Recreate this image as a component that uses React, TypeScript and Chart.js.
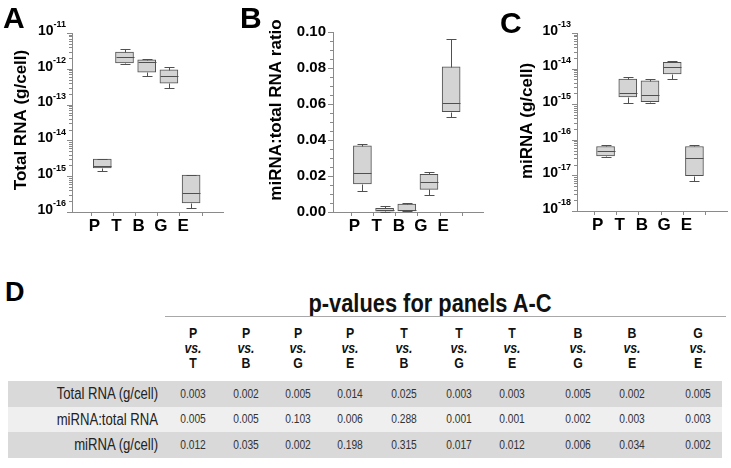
import React, { useEffect, useRef } from 'react';
import { Chart, registerables } from 'chart.js';

Chart.register(...registerables);

const FONT = '"Liberation Sans", Arial, Helvetica, sans-serif';

const groups = ['P', 'T', 'B', 'G', 'E'];

// Panel A: Total RNA (g/cell)
const totalRnaMin = [1.41e-15, 1.35e-12, 6.3e-13, 2.9e-13, 1.29e-16];
const totalRnaQ1 = [1.7e-15, 1.45e-12, 8.1e-13, 4.0e-13, 1.78e-16];
const totalRnaMedian = [1.91e-15, 2.14e-12, 1.55e-12, 6.3e-13, 3.4e-16];
const totalRnaQ3 = [3.0e-15, 2.95e-12, 1.78e-12, 9.3e-13, 1.07e-15];
const totalRnaMax = [3.1e-15, 3.55e-12, 1.86e-12, 1.12e-12, 1.1e-15];
const totalRnaDecades = [-16, -15, -14, -13, -12, -11];

// Panel B: miRNA:total RNA ratio
const ratioMin = [0.0117, 0.0002, 0.0003, 0.0094, 0.0526];
const ratioQ1 = [0.0156, 0.0004, 0.0006, 0.0126, 0.0557];
const ratioMedian = [0.0217, 0.001, 0.0011, 0.0165, 0.0604];
const ratioQ3 = [0.0367, 0.002, 0.0044, 0.0209, 0.0807];
const ratioMax = [0.0378, 0.0033, 0.0048, 0.0224, 0.0959];
const ratioTicks = [0, 0.02, 0.04, 0.06, 0.08, 0.1];
const ratioMinorTicks = [0.005, 0.01, 0.015, 0.025, 0.03, 0.035, 0.045, 0.05, 0.055, 0.065, 0.07, 0.075, 0.085, 0.09, 0.095];

// Panel C: miRNA (g/cell)
const mirnaMin = [3.2e-17, 1.07e-15, 1.07e-15, 5.1e-15, 6.9e-18];
const mirnaQ1 = [3.5e-17, 1.6e-15, 1.17e-15, 7.1e-15, 9.8e-18];
const mirnaMedian = [4.7e-17, 2.1e-15, 1.8e-15, 1.12e-14, 3.0e-17];
const mirnaQ3 = [6.5e-17, 5.1e-15, 4.5e-15, 1.51e-14, 6.5e-17];
const mirnaMax = [7.1e-17, 5.9e-15, 5.0e-15, 1.62e-14, 7.1e-17];
const mirnaDecades = [-18, -17, -16, -15, -14, -13];

// Panel D: p-values table
const comparisonFrom = ['P', 'P', 'P', 'P', 'T', 'T', 'T', 'B', 'B', 'G'];
const comparisonTo = ['T', 'B', 'G', 'E', 'B', 'G', 'E', 'G', 'E', 'E'];
const rowLabels = ['Total RNA (g/cell)', 'miRNA:total RNA', 'miRNA (g/cell)'];
const pTotalRna = ['0.003', '0.002', '0.005', '0.014', '0.025', '0.003', '0.003', '0.005', '0.002', '0.005'];
const pRatio = ['0.005', '0.005', '0.103', '0.006', '0.288', '0.001', '0.001', '0.002', '0.003', '0.003'];
const pMirna = ['0.012', '0.035', '0.002', '0.198', '0.315', '0.017', '0.012', '0.006', '0.034', '0.002'];
const pRows = [pTotalRna, pRatio, pMirna];

const AXIS = '#8a8a8a';
const BOX_LINE = '#505050';
const BOX_FILL = '#d4d4d4';

type PanelProps = {
  left: number;
  width: number;
  height: number;
  chartLeft: number;
  chartRight: number;
  chartTop: number;
  chartBottom: number;
  xMin: number;
  xMax: number;
  log: boolean;
  yMin: number;
  yMax: number;
  decades?: number[];
  linTicks?: number[];
  minorTicks?: number[];
  mins: number[];
  q1s: number[];
  medians: number[];
  q3s: number[];
  maxs: number[];
  title: string;
  titleX: number;
  titleY: number;
};

function BoxPanel(p: PanelProps) {
  const ref = useRef<HTMLCanvasElement>(null);
  useEffect(() => {
    const whiskers = {
      id: 'whiskers',
      afterDatasetsDraw(chart: any) {
        const { ctx, scales } = chart;
        const x = scales.x;
        const y = scales.y;
        ctx.save();
        ctx.strokeStyle = BOX_LINE;
        ctx.lineWidth = 1;
        const py = (v: number) => Math.round(y.getPixelForValue(v)) + 0.5;
        for (let i = 0; i < groups.length; i++) {
          const cx = Math.round(x.getPixelForValue(i)) + 0.5;
          const yMax = py(p.maxs[i]);
          const yQ3 = py(p.q3s[i]);
          const yQ1 = py(p.q1s[i]);
          const yMin = py(p.mins[i]);
          const yMed = py(p.medians[i]);
          ctx.beginPath();
          ctx.moveTo(cx, yQ3);
          ctx.lineTo(cx, yMax);
          ctx.moveTo(cx - 5, yMax);
          ctx.lineTo(cx + 5, yMax);
          ctx.moveTo(cx, yQ1);
          ctx.lineTo(cx, yMin);
          ctx.moveTo(cx - 5, yMin);
          ctx.lineTo(cx + 5, yMin);
          ctx.moveTo(cx - 9, yMed);
          ctx.lineTo(cx + 9, yMed);
          ctx.stroke();
        }
        ctx.restore();
      },
    };
    const decor = {
      id: 'decor',
      afterDraw(chart: any) {
        const { ctx, scales, chartArea } = chart;
        const y = scales.y;
        const ax = chartArea.left;
        ctx.save();
        ctx.strokeStyle = AXIS;
        ctx.lineWidth = 1;
        ctx.beginPath();
        if (p.log && p.decades) {
          const ds = p.decades;
          for (let di = 0; di < ds.length; di++) {
            const e = ds[di];
            const yy = Math.round(y.getPixelForValue(Math.pow(10, e))) + 0.5;
            ctx.moveTo(ax - 5, yy);
            ctx.lineTo(ax, yy);
            if (di < ds.length - 1) {
              for (let k = 2; k <= 9; k++) {
                const ym = Math.round(y.getPixelForValue(k * Math.pow(10, e))) + 0.5;
                ctx.moveTo(ax - 3, ym);
                ctx.lineTo(ax, ym);
              }
            }
          }
        }
        if (p.minorTicks) {
          for (const v of p.minorTicks) {
            const ym = Math.round(y.getPixelForValue(v)) + 0.5;
            ctx.moveTo(ax - 3, ym);
            ctx.lineTo(ax, ym);
          }
        }
        ctx.stroke();
        ctx.fillStyle = '#000';
        if (p.log && p.decades) {
          const baseFont = `bold 14px ${FONT}`;
          const expFont = `bold 9px ${FONT}`;
          for (const e of p.decades) {
            const yy = y.getPixelForValue(Math.pow(10, e));
            const expText = String(e);
            ctx.font = expFont;
            const we = ctx.measureText(expText).width;
            ctx.font = baseFont;
            const wb = ctx.measureText('10').width;
            const right = ax - 6;
            ctx.textAlign = 'left';
            ctx.textBaseline = 'middle';
            ctx.fillText('10', right - we - wb, yy - 2);
            ctx.font = expFont;
            ctx.fillText(expText, right - we, yy - 8);
          }
        }
        ctx.translate(p.titleX, p.titleY);
        ctx.rotate(-Math.PI / 2);
        ctx.font = `bold 17px ${FONT}`;
        ctx.textAlign = 'center';
        ctx.textBaseline = 'middle';
        ctx.fillText(p.title, 0, 0);
        ctx.restore();
      },
    };
    const yScale: any = p.log
      ? {
          type: 'logarithmic',
          min: p.yMin,
          max: p.yMax,
          ticks: { display: false },
          grid: { display: false },
          border: { display: true, color: AXIS, width: 1 },
          afterFit: (s: any) => {
            s.width = p.chartLeft;
          },
        }
      : {
          type: 'linear',
          min: p.yMin,
          max: p.yMax,
          afterBuildTicks: (s: any) => {
            s.ticks = (p.linTicks || []).map((v) => ({ value: v }));
          },
          ticks: {
            callback: (v: any) => Number(v).toFixed(2),
            font: { family: FONT, size: 15, weight: 'bold' },
            color: '#000',
            padding: 2,
          },
          grid: { drawOnChartArea: false, tickLength: 5, color: AXIS },
          border: { display: true, color: AXIS, width: 1 },
          afterFit: (s: any) => {
            s.width = p.chartLeft;
          },
        };
    const chart = new Chart(ref.current as HTMLCanvasElement, {
      type: 'bar',
      data: {
        datasets: [
          {
            data: groups.map((_, i) => ({ x: i, y: [p.q1s[i], p.q3s[i]] })) as any,
            backgroundColor: BOX_FILL,
            borderColor: BOX_LINE,
            borderWidth: 1,
            borderSkipped: false,
            barThickness: 18,
          },
        ],
      },
      options: {
        responsive: false,
        animation: false,
        devicePixelRatio: 1,
        layout: { padding: { left: 0, top: p.chartTop, right: p.width - p.chartRight, bottom: 0 } },
        plugins: { legend: { display: false }, tooltip: { enabled: false } },
        scales: {
          x: {
            type: 'linear',
            min: p.xMin,
            max: p.xMax,
            afterBuildTicks: (s: any) => {
              s.ticks = groups.map((_, i) => ({ value: i }));
            },
            afterFit: (s: any) => {
              s.height = p.height - p.chartBottom;
            },
            ticks: {
              callback: (v: any) => groups[v] ?? '',
              font: { family: FONT, size: 17, weight: 'bold' },
              color: '#000',
              padding: 0,
              labelOffset: -8,
              autoSkip: false,
              maxRotation: 0,
            },
            grid: { drawOnChartArea: false, tickLength: 4, color: AXIS },
            border: { display: true, color: AXIS, width: 1 },
          },
          y: yScale,
        },
      },
      plugins: [whiskers, decor],
    } as any);
    return () => chart.destroy();
  }, []);
  return (
    <canvas
      ref={ref}
      width={p.width}
      height={p.height}
      style={{ position: 'absolute', left: p.left, top: 0, width: p.width, height: p.height }}
    />
  );
}

const panelLetter = (text: string, left: number, top: number, size: number) => (
  <div
    style={{
      position: 'absolute',
      left,
      top,
      fontFamily: FONT,
      fontWeight: 'bold',
      fontSize: size,
      lineHeight: `${size}px`,
      color: '#000',
    }}
  >
    {text}
  </div>
);

function PTable() {
  const colCenters = [193, 246, 298, 350, 404, 459, 512, 578, 632, 698];
  const rowTop = 381;
  const rowH = 25.5;
  const rowBg = ['#d9d9d9', '#efefef', '#d9d9d9'];
  const cell = (cx: number, cy: number, text: string, style: any, key: string) => (
    <div
      key={key}
      style={{
        position: 'absolute',
        left: cx - 30,
        width: 60,
        top: cy - 9,
        height: 18,
        lineHeight: '18px',
        textAlign: 'center',
        whiteSpace: 'nowrap',
        transform: 'scaleX(0.82)',
        transformOrigin: '50% 50%',
        ...style,
      }}
    >
      {text}
    </div>
  );
  const head = { fontFamily: FONT, fontWeight: 'bold', fontSize: 15, color: '#111' };
  return (
    <>
      <div
        style={{
          position: 'absolute',
          left: 230,
          width: 400,
          top: 288,
          lineHeight: '30px',
          textAlign: 'center',
          fontFamily: FONT,
          fontWeight: 'bold',
          fontSize: 26,
          color: '#111',
          whiteSpace: 'nowrap',
          transform: 'scaleX(0.84)',
          transformOrigin: '50% 50%',
        }}
      >
        p-values for panels A-C
      </div>
      <div style={{ position: 'absolute', left: 165, top: 316, width: 561, height: 1, background: '#a8a8a8' }} />
      {comparisonFrom.map((a, i) => cell(colCenters[i], 333, a, head, 'h1' + i))}
      {comparisonFrom.map((_, i) =>
        cell(colCenters[i], 348, 'vs.', { ...head, fontStyle: 'italic' }, 'h2' + i)
      )}
      {comparisonTo.map((b, i) => cell(colCenters[i], 363, b, head, 'h3' + i))}
      {rowLabels.map((lab, r) => (
        <div
          key={'row' + r}
          style={{
            position: 'absolute',
            left: 8,
            width: 714,
            top: rowTop + r * rowH,
            height: rowH,
            background: rowBg[r],
          }}
        />
      ))}
      {rowLabels.map((lab, r) => (
        <div
          key={'lab' + r}
          style={{
            position: 'absolute',
            left: 8,
            width: 150,
            top: rowTop + r * rowH,
            height: rowH,
            lineHeight: `${rowH}px`,
            textAlign: 'right',
            fontFamily: FONT,
            fontSize: 16,
            color: '#222',
            whiteSpace: 'nowrap',
            transform: 'scaleX(0.82)',
            transformOrigin: '100% 50%',
          }}
        >
          {lab}
        </div>
      ))}
      {pRows.map((row, r) =>
        row.map((v, i) =>
          cell(
            colCenters[i],
            rowTop + r * rowH + rowH / 2,
            v,
            { fontFamily: FONT, fontSize: 12.5, color: '#333' },
            'v' + r + '_' + i
          )
        )
      )}
    </>
  );
}

export default function App() {
  return (
    <div
      style={{
        position: 'absolute',
        left: 0,
        top: 0,
        width: 731,
        height: 468,
        background: '#fff',
        overflow: 'hidden',
      }}
    >
      <BoxPanel
        left={0}
        width={240}
        height={245}
        chartLeft={72}
        chartRight={223}
        chartTop={33}
        chartBottom={212}
        xMin={-0.685}
        xMax={4.757}
        log={true}
        yMin={1e-16}
        yMax={1e-11}
        decades={totalRnaDecades}
        mins={totalRnaMin}
        q1s={totalRnaQ1}
        medians={totalRnaMedian}
        q3s={totalRnaQ3}
        maxs={totalRnaMax}
        title="Total RNA (g/cell)"
        titleX={21}
        titleY={120}
      />
      <BoxPanel
        left={240}
        width={250}
        height={245}
        chartLeft={93}
        chartRight={243}
        chartTop={32}
        chartBottom={212}
        xMin={-0.65}
        xMax={4.76}
        log={false}
        yMin={0}
        yMax={0.1}
        linTicks={ratioTicks}
        minorTicks={ratioMinorTicks}
        mins={ratioMin}
        q1s={ratioQ1}
        medians={ratioMedian}
        q3s={ratioQ3}
        maxs={ratioMax}
        title="miRNA:total RNA ratio"
        titleX={36}
        titleY={110}
      />
      <BoxPanel
        left={480}
        width={251}
        height={245}
        chartLeft={97}
        chartRight={247}
        chartTop={33}
        chartBottom={211}
        xMin={-0.61}
        xMax={4.79}
        log={true}
        yMin={1e-18}
        yMax={1e-13}
        decades={mirnaDecades}
        mins={mirnaMin}
        q1s={mirnaQ1}
        medians={mirnaMedian}
        q3s={mirnaQ3}
        maxs={mirnaMax}
        title="miRNA (g/cell)"
        titleX={47}
        titleY={121}
      />
      {panelLetter('A', 3, 3, 30)}
      {panelLetter('B', 240, 3, 30)}
      {panelLetter('C', 500, 8, 30)}
      {panelLetter('D', 5, 279, 27)}
      <PTable />
    </div>
  );
}
